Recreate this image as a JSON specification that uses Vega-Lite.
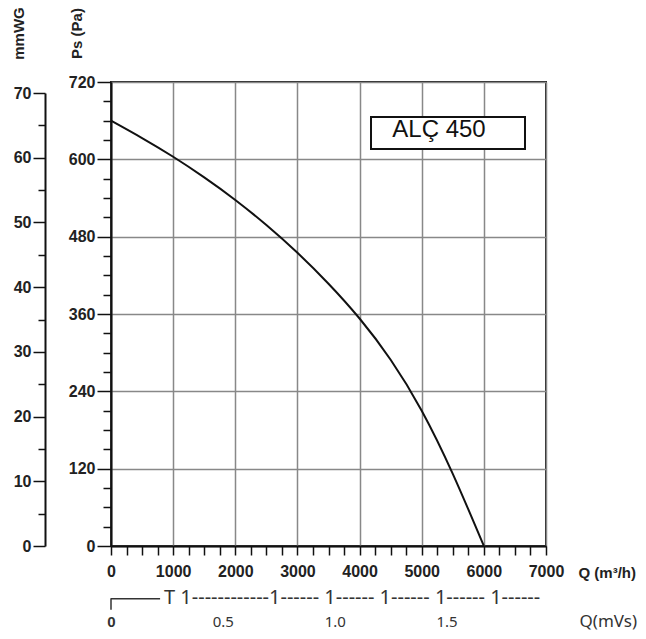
{
  "$schema": "https://vega.github.io/schema/vega-lite/v6.json",
  "width": 435,
  "height": 464,
  "autosize": {"type": "none"},
  "padding": {"left": 111, "top": 82, "right": 100, "bottom": 93},
  "background": "white",
  "config": {
    "view": {"stroke": "#222", "strokeWidth": 2},
    "axis": {
      "labelFont": "Liberation Sans",
      "labelFontSize": 16,
      "labelFontWeight": "bold",
      "labelColor": "#222",
      "titleFont": "Liberation Sans",
      "titleColor": "#222",
      "domainColor": "#111",
      "tickColor": "#111",
      "labelFlush": false,
      "labelOverlap": false
    }
  },
  "layer": [
    {
      "data": {"values": [
        {"Q": 0, "Pa": 660}, {"Q": 500, "Pa": 633}, {"Q": 1000, "Pa": 604},
        {"Q": 1500, "Pa": 572}, {"Q": 2000, "Pa": 537}, {"Q": 2500, "Pa": 498},
        {"Q": 3000, "Pa": 455}, {"Q": 3500, "Pa": 407}, {"Q": 4000, "Pa": 353},
        {"Q": 4500, "Pa": 289}, {"Q": 5000, "Pa": 210}, {"Q": 5500, "Pa": 112},
        {"Q": 6000, "Pa": 0}
      ]},
      "mark": {"type": "line", "interpolate": "natural", "color": "#111", "strokeWidth": 2},
      "encoding": {
        "x": {
          "field": "Q", "type": "quantitative",
          "scale": {"domain": [0, 7000], "nice": false},
          "axis": {
            "orient": "bottom",
            "values": [0, 1000, 2000, 3000, 4000, 5000, 6000, 7000],
            "format": "d",
            "grid": true, "gridColor": "#888", "gridWidth": 1.5,
            "domainWidth": 2, "tickWidth": 1.5, "tickSize": 9, "labelPadding": 8,
            "title": "Q (m³/h)", "titleX": 467, "titleY": 26, "titleAlign": "left",
            "titleBaseline": "middle", "titleFontSize": 15, "titleFontWeight": "bold"
          }
        },
        "y": {
          "field": "Pa", "type": "quantitative",
          "scale": {"domain": [0, 720], "nice": false},
          "axis": {
            "orient": "left",
            "values": [0, 120, 240, 360, 480, 600, 720],
            "format": "d",
            "grid": true, "gridColor": "#888", "gridWidth": 1.5,
            "domainWidth": 2, "tickWidth": 1.5, "tickSize": 14, "labelPadding": 2,
            "title": "Ps (Pa)", "titleAngle": -90, "titleX": -35, "titleY": -49,
            "titleAlign": "center", "titleBaseline": "middle", "titleFontSize": 15, "titleFontWeight": "bold"
          }
        }
      }
    },
    {
      "data": {"values": [{}]},
      "mark": {"type": "rect", "fill": "white", "stroke": "#111", "strokeWidth": 2},
      "encoding": {
        "x": {
          "datum": 4184, "type": "quantitative",
          "scale": {"domain": [0, 7000], "nice": false},
          "axis": {
            "orient": "bottom",
            "values": [250, 500, 750, 1250, 1500, 1750, 2250, 2500, 2750, 3250, 3500, 3750, 4250, 4500, 4750, 5250, 5500, 5750, 6250, 6500, 6750],
            "labels": false, "domain": false, "grid": false, "tickSize": 9, "tickWidth": 1.5, "title": null
          }
        },
        "x2": {"datum": 6662},
        "y": {
          "datum": 665.7, "type": "quantitative",
          "scale": {"domain": [0, 720], "nice": false},
          "axis": {
            "orient": "left",
            "values": [30, 60, 90, 150, 180, 210, 270, 300, 330, 390, 420, 450, 510, 540, 570, 630, 660, 690],
            "labels": false, "domain": false, "grid": false, "tickSize": 8, "tickWidth": 1.5, "title": null
          }
        },
        "y2": {"datum": 616}
      }
    },
    {
      "data": {"values": [{}]},
      "mark": {"type": "text", "text": "ALÇ 450", "align": "center", "baseline": "middle", "font": "Liberation Sans", "fontSize": 24, "color": "#111"},
      "encoding": {
        "x": {"datum": 5278, "type": "quantitative", "scale": {"domain": [0, 7000], "nice": false}, "axis": null},
        "y": {"datum": 645, "type": "quantitative", "scale": {"domain": [0, 720], "nice": false}, "axis": null}
      }
    },
    {
      "data": {"values": [{}]},
      "mark": {"type": "point", "opacity": 0},
      "encoding": {
        "y": {
          "datum": 0, "type": "quantitative",
          "scale": {"domain": [0, 70], "range": [464, 11], "nice": false},
          "axis": {
            "orient": "left", "offset": 66,
            "values": [0, 10, 20, 30, 40, 50, 60, 70],
            "tickSize": 12, "tickWidth": 1.5, "labelPadding": 2, "domainWidth": 2, "grid": false,
            "title": "mmWG", "titleAngle": -90, "titleX": -27, "titleY": -49,
            "titleAlign": "center", "titleBaseline": "middle", "titleFontSize": 15, "titleFontWeight": "bold"
          }
        }
      }
    },
    {
      "data": {"values": [{}]},
      "mark": {"type": "point", "opacity": 0},
      "encoding": {
        "y": {
          "datum": 0, "type": "quantitative",
          "scale": {"domain": [0, 70], "range": [464, 11], "nice": false},
          "axis": {
            "orient": "left", "offset": 66,
            "values": [5, 15, 25, 35, 45, 55, 65],
            "tickSize": 7, "tickWidth": 1.5, "labels": false, "domain": false, "grid": false, "title": null
          }
        }
      }
    },
    {
      "data": {"values": [{}]},
      "mark": {"type": "point", "opacity": 0},
      "encoding": {
        "x": {
          "datum": 0, "type": "quantitative",
          "scale": {"domain": [0, 1.9444], "nice": false},
          "axis": {
            "orient": "bottom", "offset": 75,
            "values": [0, 0.5, 1, 1.5],
            "labelExpr": "datum.value === 0 ? '0' : format(datum.value, '.1f')",
            "ticks": false, "domain": false, "grid": false,
            "labelPadding": 0, "labelBaseline": "middle",
            "labelFont": {"condition": {"test": "datum.value === 0", "value": "Liberation Sans"}, "value": "Noto Sans"},
            "labelFontWeight": {"condition": {"test": "datum.value === 0", "value": "bold"}, "value": "normal"},
            "labelFontSize": 15, "labelColor": "#333",
            "title": "Q(mVs)", "titleFont": "Noto Sans", "titleFontWeight": "normal", "titleFontSize": 17,
            "titleColor": "#333", "titleX": 468, "titleY": 0, "titleAlign": "left", "titleBaseline": "middle"
          }
        }
      }
    },
    {
      "data": {"values": [{}]},
      "mark": {"type": "text", "text": "T 1------------1------ 1------ 1------ 1------ 1------", "align": "left", "baseline": "middle", "font": "Noto Sans", "fontSize": 20, "color": "#333"},
      "encoding": {
        "x": {"datum": 853, "type": "quantitative", "scale": {"domain": [0, 7000], "nice": false}, "axis": null},
        "y": {"datum": -80, "type": "quantitative", "scale": {"domain": [0, 720], "nice": false}, "axis": null}
      }
    },
    {
      "data": {"values": [{}]},
      "mark": {"type": "rule", "color": "#333", "strokeWidth": 1.5},
      "encoding": {
        "x": {"datum": 0, "type": "quantitative", "scale": {"domain": [0, 7000], "nice": false}, "axis": null},
        "x2": {"datum": 790},
        "y": {"datum": -82, "type": "quantitative", "scale": {"domain": [0, 720], "nice": false}, "axis": null}
      }
    },
    {
      "data": {"values": [{}]},
      "mark": {"type": "rule", "color": "#333", "strokeWidth": 1.5},
      "encoding": {
        "x": {"datum": 0, "type": "quantitative", "scale": {"domain": [0, 7000], "nice": false}, "axis": null},
        "y": {"datum": -81, "type": "quantitative", "scale": {"domain": [0, 720], "nice": false}, "axis": null},
        "y2": {"datum": -99}
      }
    }
  ],
  "resolve": {
    "scale": {"x": "independent", "y": "independent"},
    "axis": {"x": "independent", "y": "independent"}
  }
}
